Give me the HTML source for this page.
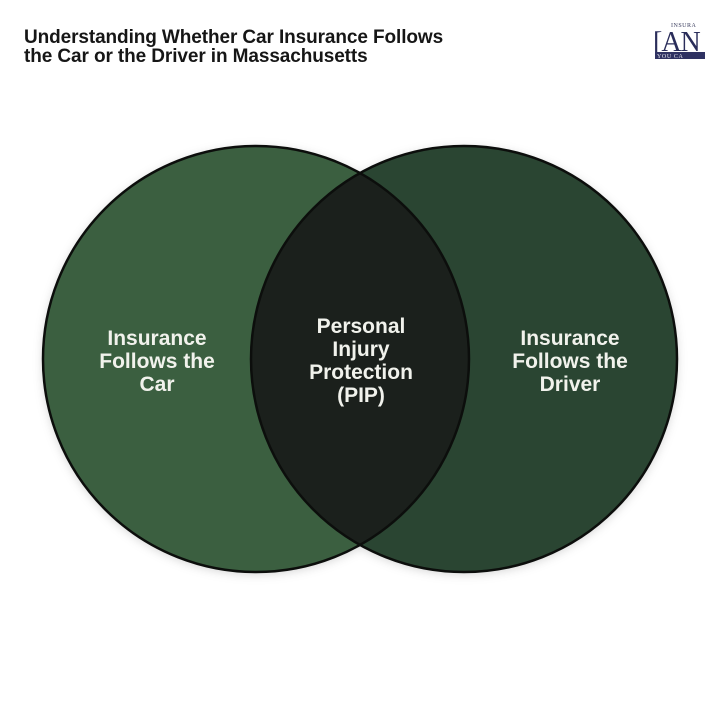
<!DOCTYPE html>
<html>
<head>
<meta charset="utf-8">
<style>
  html,body{margin:0;padding:0;background:#ffffff;}
  body{width:720px;height:720px;overflow:hidden;}
  svg{display:block;}
</style>
</head>
<body>
<svg width="720" height="720" viewBox="0 0 720 720" xmlns="http://www.w3.org/2000/svg">
  <defs>
    <clipPath id="clipL">
      <circle cx="256" cy="359" r="213"/>
    </clipPath>
    <filter id="sh" x="-20%" y="-20%" width="140%" height="140%">
      <feDropShadow dx="0" dy="2" stdDeviation="5" flood-color="#000" flood-opacity="0.18"/>
    </filter>
  </defs>
  <rect width="720" height="720" fill="#ffffff"/>

  <!-- Title -->
  <g font-family="'Liberation Sans', Arial, sans-serif" font-weight="bold" fill="#161616" font-size="19" letter-spacing="-0.1">
    <text x="24" y="43">Understanding Whether Car Insurance Follows</text>
    <text x="24" y="62">the Car or the Driver in Massachusetts</text>
  </g>

  <!-- Logo -->
  <g>
    <text x="671" y="27" font-family="'Liberation Serif', serif" font-size="6" fill="#3a3d5e" letter-spacing="0.5">INSURA</text>
    <text x="653" y="51" font-family="'Liberation Serif', serif" font-size="28" fill="#2a2d5a" letter-spacing="-1">[AN</text>
    <rect x="655" y="52" width="50" height="7" fill="#2f3262"/>
    <text x="657" y="58" font-family="'Liberation Serif', serif" font-size="6" fill="#e8e8f0" letter-spacing="0.6">YOU CA</text>
  </g>

  <!-- Venn -->
  <g filter="url(#sh)">
    <circle cx="256" cy="359" r="213" fill="#3b5e41"/>
    <circle cx="464" cy="359" r="213" fill="#2b4530"/>
  </g>
  <circle cx="464" cy="359" r="213" fill="#1b201c" clip-path="url(#clipL)"/>
  <circle cx="256" cy="359" r="213" fill="none" stroke="#0c0e0c" stroke-width="2.5"/>
  <circle cx="464" cy="359" r="213" fill="none" stroke="#0c0e0c" stroke-width="2.5"/>

  <!-- Labels -->
  <g font-family="'Liberation Sans', Arial, sans-serif" font-weight="bold" fill="#f1f2ec" font-size="21" text-anchor="middle">
    <text x="157" y="345">Insurance</text>
    <text x="157" y="368">Follows the</text>
    <text x="157" y="391">Car</text>

    <text x="361" y="333">Personal</text>
    <text x="361" y="356">Injury</text>
    <text x="361" y="379">Protection</text>
    <text x="361" y="402">(PIP)</text>

    <text x="570" y="345">Insurance</text>
    <text x="570" y="368">Follows the</text>
    <text x="570" y="391">Driver</text>
  </g>
</svg>
</body>
</html>
